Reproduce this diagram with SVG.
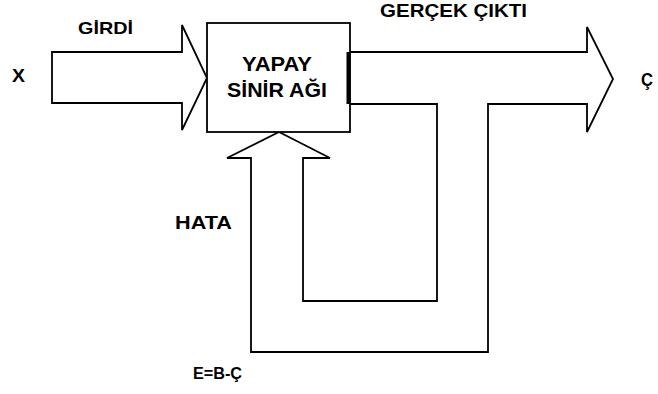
<svg xmlns="http://www.w3.org/2000/svg" width="658" height="394" viewBox="0 0 658 394">
<style>
.ln{fill:#fff;stroke:#000;stroke-width:1.8;stroke-linejoin:miter}
.t{font-family:"Liberation Sans",Arial,sans-serif;font-weight:bold;fill:#000}
</style>
<rect x="0" y="0" width="658" height="394" fill="#fff"/>
<g id="connectors">
<path id="input-arrow" class="ln" d="M52,52 L182,52 L182,25 L207,78 L182,130 L182,103 L52,103 Z"/>
<path id="output-feedback-arrow" class="ln" d="M348,52 L587,52 L587,27 L613,79 L587,132 L587,104 L488,104 L488,352 L251,352 L251,158 L227,158 L279,132 L330,158 L303,158 L303,301 L437,301 L437,104 L348,104 Z"/>
</g>
<g id="node-ysa">
<rect class="ln" x="207" y="23" width="143" height="109"/>
<rect x="346.5" y="52" width="4" height="52" fill="#000"/>
<text class="t" font-size="20" x="242" y="71" textLength="70" lengthAdjust="spacingAndGlyphs">YAPAY</text>
<text class="t" font-size="20" x="227" y="97" textLength="100" lengthAdjust="spacingAndGlyphs">SİNİR AĞI</text>
</g>
<g id="labels">
<text class="t" font-size="18" x="12" y="82" textLength="13" lengthAdjust="spacingAndGlyphs">X</text>
<text class="t" font-size="17" x="78" y="34" textLength="55" lengthAdjust="spacingAndGlyphs">GİRDİ</text>
<text class="t" font-size="18" x="380" y="17" textLength="147" lengthAdjust="spacingAndGlyphs">GERÇEK ÇIKTI</text>
<text class="t" font-size="18" x="641" y="86" textLength="12" lengthAdjust="spacingAndGlyphs">Ç</text>
<text class="t" font-size="18" x="175" y="229" textLength="57" lengthAdjust="spacingAndGlyphs">HATA</text>
<text class="t" font-size="16" x="193" y="379" textLength="49" lengthAdjust="spacingAndGlyphs">E=B-Ç</text>
</g>
</svg>
